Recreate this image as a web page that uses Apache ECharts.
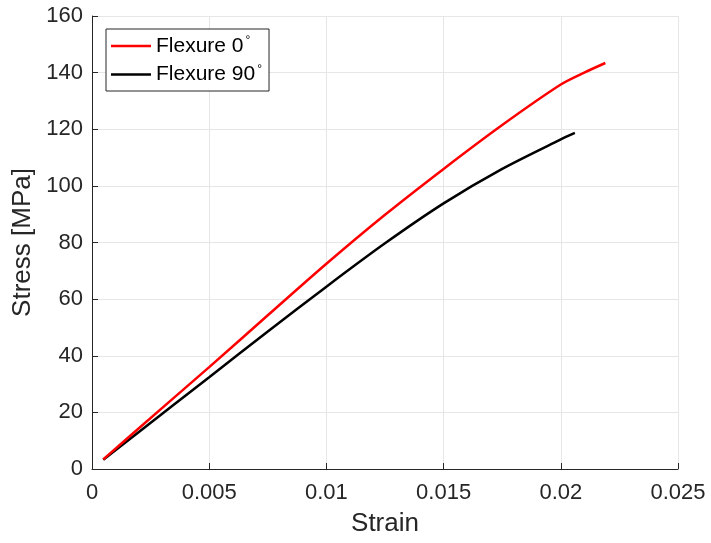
<!DOCTYPE html>
<html>
<head>
<meta charset="utf-8">
<script src="https://cdn.jsdelivr.net/npm/echarts@6/dist/echarts.min.js"></script>
<style>
  html, body { margin: 0; padding: 0; background: #fff; }
  #chart { width: 711px; height: 543px; }
</style>
</head>
<body>
<div id="chart"></div>
<script>
// Stress–strain curves for the two flexure orientations
const strain0 = [0.00048, 0.002, 0.005, 0.0075, 0.01, 0.0125, 0.015, 0.0175, 0.02, 0.021, 0.0219];
const stress0 = [3.4, 14.4, 36, 54.3, 72.5, 89.8, 106, 121.5, 135.8, 140, 143.4];
const strain90 = [0.00048, 0.002, 0.005, 0.0075, 0.01, 0.0125, 0.015, 0.0175, 0.02, 0.0206];
const stress90 = [3.3, 13.1, 32.4, 48.6, 64.4, 79.7, 93.8, 106, 116.4, 118.7];
const seriesNames = ['Flexure 0', 'Flexure 90'];
const xTicks = [0, 0.005, 0.01, 0.015, 0.02, 0.025];

const axisColor = '#262626';
const font = 'Liberation Sans, Arial, Helvetica, sans-serif';

const chart = echarts.init(document.getElementById('chart'));
chart.setOption({
  animation: false,
  backgroundColor: '#fff',
  grid: { left: 92, right: 33, top: 16, bottom: 74, containLabel: false },
  legend: {
    orient: 'vertical',
    left: 106,
    top: 29,
    itemWidth: 40,
    itemHeight: 2.5,
    itemGap: 7,
    padding: [6, 7, 6, 5],
    borderColor: axisColor,
    borderWidth: 1,
    backgroundColor: '#fff',
    icon: 'rect',
    data: seriesNames,
    formatter: n => n + '{sup|°}',
    textStyle: {
      color: '#000',
      fontFamily: font,
      fontSize: 21,
      rich: { sup: { fontSize: 12, verticalAlign: 'top', padding: [0, 0, 10, 2], fontFamily: font } }
    }
  },
  xAxis: {
    type: 'value',
    min: 0, max: 0.025, interval: 0.005,
    name: 'Strain',
    nameLocation: 'middle',
    nameGap: 42,
    nameTextStyle: { color: axisColor, fontSize: 26, fontFamily: font },
    axisLine: { show: true, lineStyle: { color: axisColor, width: 1 } },
    axisTick: { show: true, inside: true, length: 6, lineStyle: { color: axisColor } },
    axisLabel: {
      color: axisColor, fontSize: 22, fontFamily: font, margin: 13,
      formatter: v => {
        const t = xTicks.find(k => Math.abs(k - v) < 1e-9);
        return t === undefined ? '' : String(t);
      }
    },
    splitLine: { show: true, lineStyle: { color: '#e6e6e6', width: 1 } }
  },
  yAxis: {
    type: 'value',
    min: 0, max: 160, interval: 20,
    name: 'Stress [MPa]',
    nameLocation: 'middle',
    nameGap: 54,
    nameTextStyle: { color: axisColor, fontSize: 26, fontFamily: font },
    axisLine: { show: true, lineStyle: { color: axisColor, width: 1 } },
    axisTick: { show: true, inside: true, length: 6, lineStyle: { color: axisColor } },
    axisLabel: { color: axisColor, fontSize: 22, fontFamily: font, margin: 9 },
    splitLine: { show: true, lineStyle: { color: '#e6e6e6', width: 1 } }
  },
  series: [
    {
      name: seriesNames[0], type: 'line', smooth: 0.3, showSymbol: false,
      color: '#ff0000', lineStyle: { width: 2.5, color: '#ff0000' }, z: 3,
      data: strain0.map((x, i) => [x, stress0[i]])
    },
    {
      name: seriesNames[1], type: 'line', smooth: 0.3, showSymbol: false,
      color: '#000000', lineStyle: { width: 2.5, color: '#000000' }, z: 2,
      data: strain90.map((x, i) => [x, stress90[i]])
    }
  ]
});
</script>
</body>
</html>
